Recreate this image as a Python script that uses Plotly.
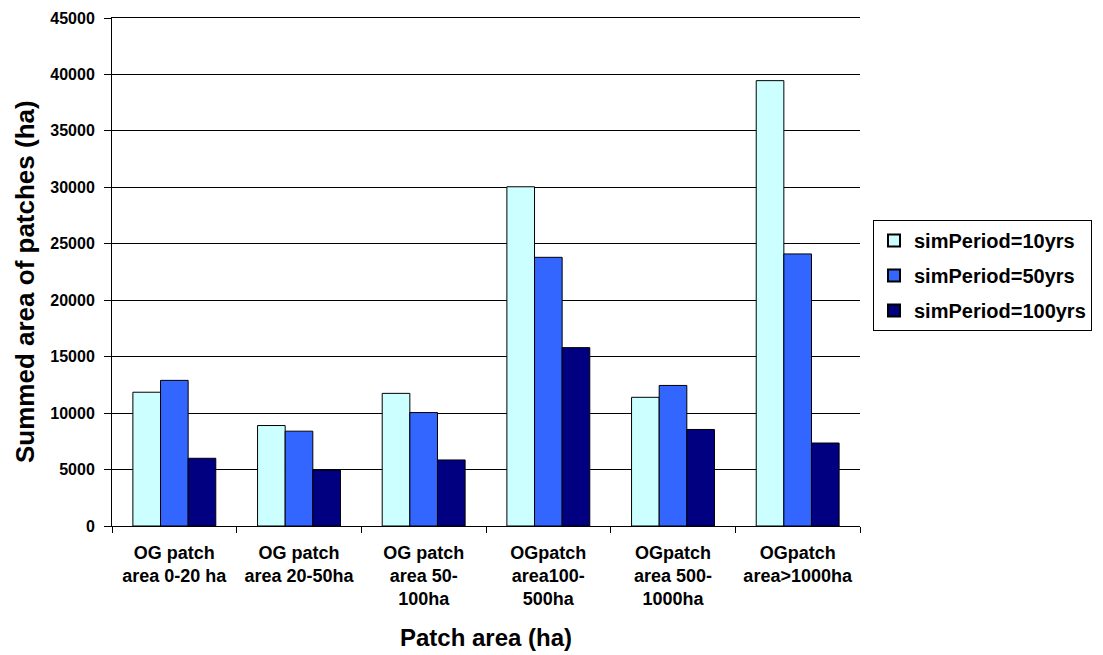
import plotly.graph_objects as go

categories = [
    "OG patch<br>area 0-20 ha",
    "OG patch<br>area 20-50ha",
    "OG patch<br>area 50-<br>100ha",
    "OGpatch<br>area100-<br>500ha",
    "OGpatch<br>area 500-<br>1000ha",
    "OGpatch<br>area>1000ha",
]
series_names = ["simPeriod=10yrs", "simPeriod=50yrs", "simPeriod=100yrs"]
vals_10 = [11850, 8900, 11750, 30050, 11400, 39450]
vals_50 = [12900, 8400, 10050, 23800, 12450, 24100]
vals_100 = [6000, 4950, 5850, 15800, 8550, 7350]
y_ticks = [0, 5000, 10000, 15000, 20000, 25000, 30000, 35000, 40000, 45000]
colors = ["#CCFFFF", "#3366FF", "#000080"]

FONT = "Liberation Sans, Arial, sans-serif"
OFF = 8  # default page body margin

fig = go.Figure()
for i, (name, vals, col) in enumerate(zip(series_names, [vals_10, vals_50, vals_100], colors)):
    fig.add_trace(go.Bar(
        x=categories, y=vals, name=name, legendgroup=f"g{i}",
        marker=dict(color=col, line=dict(color="black", width=1)),
    ))

L, T, R, B = 112, 18, 860, 526
W, H = 1103 - OFF, 655 - OFF
fig.update_layout(
    width=W, height=H,
    margin=dict(l=L - OFF, r=1103 - R, t=T - OFF, b=655 - B, autoexpand=False),
    paper_bgcolor="white", plot_bgcolor="white",
    barmode="group", bargap=0.335, bargroupgap=0,
    font=dict(family=FONT, color="black"),
    showlegend=True,
    legend=dict(
        x=(873 - L) / (R - L), y=(B - 220) / (B - T), xanchor="left", yanchor="top",
        bordercolor="black", borderwidth=1, bgcolor="white",
        font=dict(family=FONT, size=20, color="black", weight="bold"),
        itemsizing="constant", tracegroupgap=6,
    ),
)

fig.update_xaxes(
    showline=True, linecolor="black", linewidth=1, mirror=True,
    ticks="outside", ticklen=6, tickcolor="black", tickson="boundaries",
    tickfont=dict(family=FONT, size=18, color="black", weight="bold"),
    ticklabelstandoff=10,
    showgrid=False, automargin=False,
)
fig.update_yaxes(
    range=[0, 45000], tickvals=y_ticks, ticktext=[str(v) for v in y_ticks],
    showline=True, linecolor="black", linewidth=1,
    ticks="outside", ticklen=7, tickcolor="black",
    showgrid=True, gridcolor="black", gridwidth=1,
    zeroline=False, automargin=False,
    ticklabelstandoff=6, ticklabeloverflow="allow",
    tickfont=dict(family=FONT, size=16, color="black", weight="bold"),
)

fig.add_annotation(
    text="Patch area (ha)", xref="paper", yref="paper",
    x=0.5, y=(B - 637) / (B - T), xanchor="center", yanchor="middle",
    showarrow=False, font=dict(family=FONT, size=24, color="black", weight="bold"),
)
fig.add_annotation(
    text="Summed area of patches (ha)", xref="paper", yref="paper",
    x=(25 - L) / (R - L), y=(B - 282) / (B - T), xanchor="center", yanchor="middle",
    textangle=-90,
    showarrow=False, font=dict(family=FONT, size=26, color="black", weight="bold"),
)

fig.write_html("out.html")
